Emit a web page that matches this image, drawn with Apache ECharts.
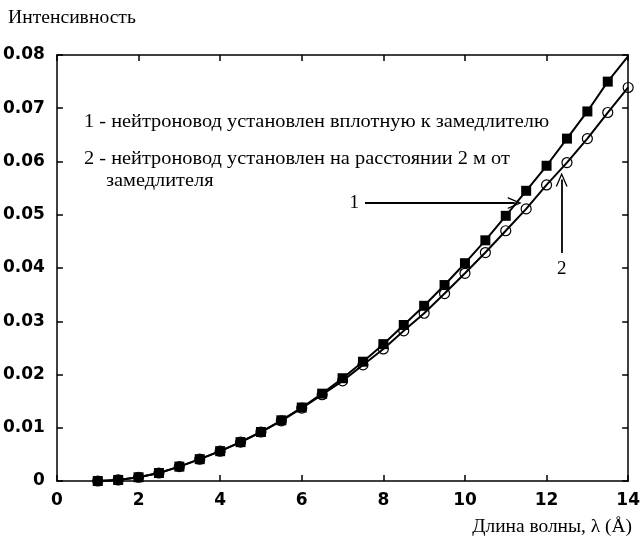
<!DOCTYPE html>
<html>
<head>
<meta charset="utf-8">
<script src="https://cdn.jsdelivr.net/npm/echarts@6/dist/echarts.min.js"></script>
<style>
  html, body { margin: 0; padding: 0; background: #fff; }
  #chart { width: 643px; height: 547px; }
</style>
</head>
<body>
<div id="chart"></div>
<script>
// Wavelength grid, Å
const wavelengths = [1, 1.5, 2, 2.5, 3, 3.5, 4, 4.5, 5, 5.5, 6, 6.5, 7, 7.5, 8, 8.5, 9, 9.5, 10, 10.5, 11, 11.5, 12, 12.5, 13, 13.5, 14];

// 1 - guide placed right at the moderator (filled squares), up to 13.5 Å
const intensityNear = [0, 0.0002, 0.0007, 0.0015, 0.0027, 0.0041, 0.0056, 0.0073, 0.0092, 0.0114, 0.0138, 0.0164, 0.0193, 0.0224, 0.0257, 0.0293, 0.0329, 0.0368, 0.0409, 0.0452, 0.0498, 0.0545, 0.0592, 0.0643, 0.0694, 0.0750];
// curve continues to the frame corner past the last marker
const nearTail = [14, 0.0798];

// 2 - guide placed 2 m from the moderator (open circles)
const intensityFar = [0, 0.0002, 0.0007, 0.0015, 0.0027, 0.0041, 0.0056, 0.0073, 0.0092, 0.0113, 0.0137, 0.0162, 0.0188, 0.0218, 0.0248, 0.0282, 0.0315, 0.0352, 0.0390, 0.0429, 0.0470, 0.0511, 0.0556, 0.0598, 0.0643, 0.0692, 0.0739];

const yTickLabels = ['0', '0.01', '0.02', '0.03', '0.04', '0.05', '0.06', '0.07', '0.08'];
const xTickLabels = ['0', '2', '4', '6', '8', '10', '12', '14'];

const yAxisTitle = 'Интенсивность';
const xAxisTitle = 'Длина волны, λ (Å)';
const legend1 = '1 - нейтроновод установлен вплотную к замедлителю';
const legend2a = '2 - нейтроновод установлен на расстоянии 2 м от';
const legend2b = 'замедлителя';

// pointer arrows: [from, to] in data coordinates
const arrow1 = [[7.55, 0.0522], [11.22, 0.0522]];
const arrow2 = [[12.37, 0.0428], [12.37, 0.0566]];

const serif = '"Liberation Serif", "DejaVu Serif", serif';
const sans = '"DejaVu Sans", "Liberation Sans", sans-serif';

const nearData = wavelengths.slice(0, intensityNear.length).map((x, i) => [x, intensityNear[i]]);
nearData.push({ value: nearTail, symbol: 'none' });
const farData = wavelengths.map((x, i) => [x, intensityFar[i]]);

const openArrow = 'path://M0,0 L6,12 L4.6,12 L0,2.8 L-4.6,12 L-6,12 Z';

const chart = echarts.init(document.getElementById('chart'), null, { renderer: 'canvas' });

const axisLine = { show: true, onZero: false, lineStyle: { color: '#000', width: 1.5 } };
const axisTick = { show: true, inside: true, length: 6, lineStyle: { color: '#000', width: 1.5 } };

function caption(text, x, y, size, sx, align) {
  return {
    type: 'text', x, y, scaleX: sx, scaleY: 1,
    style: { text, font: size + 'px ' + serif, fill: '#000', align: align || 'left', verticalAlign: 'middle' }
  };
}

chart.setOption({
  backgroundColor: '#fff',
  animation: false,
  grid: { left: 56, right: 13, top: 55, bottom: 66, containLabel: false },
  xAxis: [
    {
      type: 'value', min: 0, max: 14, interval: 2, position: 'bottom',
      axisLine, axisTick, splitLine: { show: false },
      axisLabel: {
        margin: 11, color: '#000', fontFamily: sans, fontSize: 17, fontWeight: 'bold',
        formatter: v => xTickLabels[Math.round(v / 2)]
      }
    },
    {
      type: 'value', min: 0, max: 14, interval: 2, position: 'top',
      axisLine, axisTick, splitLine: { show: false }, axisLabel: { show: false }
    }
  ],
  yAxis: [
    {
      type: 'value', min: 0, max: 0.08, interval: 0.01, position: 'left',
      axisLine, axisTick, splitLine: { show: false },
      axisLabel: {
        margin: 12, color: '#000', fontFamily: sans, fontSize: 17, fontWeight: 'bold',
        formatter: v => yTickLabels[Math.round(v * 100)]
      }
    },
    {
      type: 'value', min: 0, max: 0.08, interval: 0.01, position: 'right',
      axisLine, axisTick, splitLine: { show: false }, axisLabel: { show: false }
    }
  ],
  series: [
    {
      name: '2', type: 'line', z: 2, data: farData,
      symbol: 'circle', symbolSize: 10,
      lineStyle: { color: '#000', width: 2 },
      itemStyle: { color: 'rgba(0,0,0,0)', borderColor: '#000', borderWidth: 1.2 },
      markLine: {
        silent: true, symbol: ['none', openArrow], symbolSize: [12, 14],
        lineStyle: { color: '#000', width: 1.8, type: 'solid' },
        label: { show: true, position: 'start', distance: 6, color: '#000', fontFamily: serif, fontSize: 19, formatter: '2' },
        data: [[{ coord: arrow2[0] }, { coord: arrow2[1] }]]
      }
    },
    {
      name: '1', type: 'line', z: 3, data: nearData,
      symbol: 'rect', symbolSize: 10,
      lineStyle: { color: '#000', width: 2 },
      itemStyle: { color: '#000' },
      markLine: {
        silent: true, symbol: ['none', openArrow], symbolSize: [12, 14],
        lineStyle: { color: '#000', width: 1.8, type: 'solid' },
        label: { show: true, position: 'start', distance: 6, color: '#000', fontFamily: serif, fontSize: 19, formatter: '1' },
        data: [[{ coord: arrow1[0] }, { coord: arrow1[1] }]]
      }
    }
  ],
  graphic: [
    caption(yAxisTitle, 8, 18, 18.5, 1.06),
    caption(xAxisTitle, 632, 527, 18.5, 1.05, 'right'),
    caption(legend1, 84, 122, 18.5, 1.1),
    caption(legend2a, 84, 159, 18.5, 1.1),
    caption(legend2b, 106, 181, 18.5, 1.1)
  ]
});
</script>
</body>
</html>
